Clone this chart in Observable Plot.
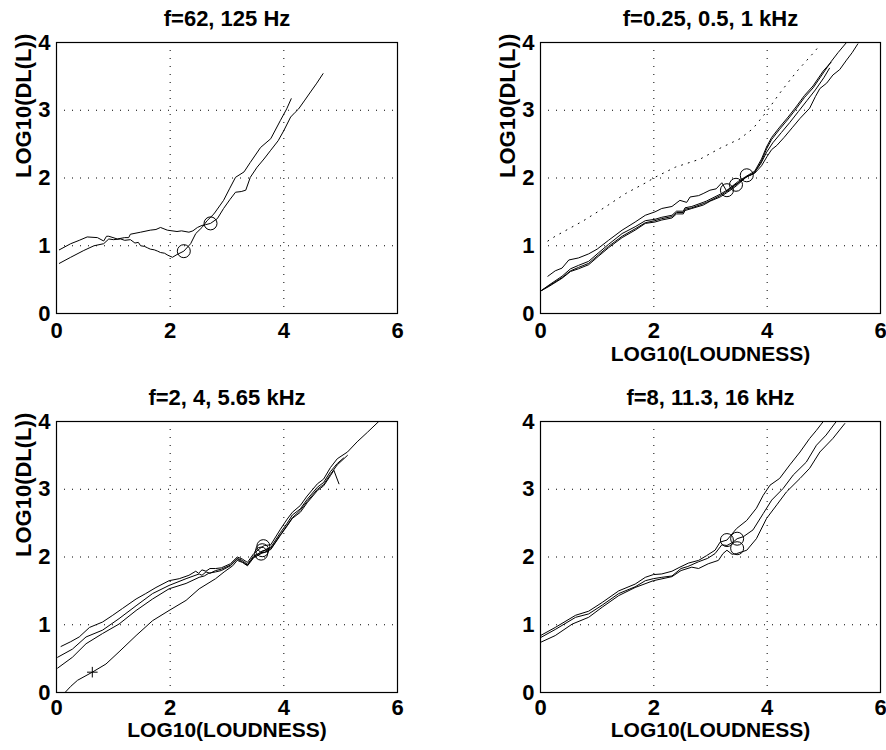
<!DOCTYPE html>
<html><head><meta charset="utf-8">
<script src="https://cdn.jsdelivr.net/npm/d3@7"></script>
<script src="https://cdn.jsdelivr.net/npm/@observablehq/plot@0.6"></script>
<style>
body{margin:0;background:#fff;}
#wrap{position:relative;width:886px;height:750px;overflow:hidden;background:#fff;}
#wrap svg{position:absolute;overflow:visible;}
</style></head><body><div id="wrap"></div>
<script>
// ---- axes / labels ----
const xTicks = [0, 2, 4, 6];
const yTicks = [0, 1, 2, 3, 4];
const xGrid = [2, 4];
const yGrid = [1, 2, 3];
const titles = ["f=62, 125 Hz", "f=0.25, 0.5, 1 kHz", "f=2, 4, 5.65 kHz", "f=8, 11.3, 16 kHz"];
const yLabel = "LOG10(DL(L))";
const xLabel = "LOG10(LOUDNESS)";

// ---- panel 1: 62, 125 Hz ----
const lowP = [[0.05,0.94],[0.25,1.03],[0.4,1.08],[0.54,1.13],[0.72,1.12],[0.83,1.07],[0.88,1.14],[0.92,1.14],[1.07,1.10],[1.2,1.12],[1.27,1.12],[1.30,1.17],[1.48,1.20],[1.65,1.23],[1.75,1.24],[1.83,1.27],[1.95,1.23],[2.12,1.21],[2.2,1.22],[2.33,1.20],[2.40,1.22],[2.48,1.27],[2.56,1.30],[2.62,1.31],[2.71,1.33],[2.83,1.40],[2.94,1.55],[3.05,1.68],[3.15,1.79],[3.25,1.80],[3.33,1.82],[3.41,2.01],[3.53,2.16],[3.65,2.28],[3.77,2.41],[3.9,2.55],[4.0,2.70],[4.12,2.90],[4.2,2.97],[4.26,3.02],[4.37,3.15],[4.47,3.27],[4.58,3.40],[4.69,3.54]];
const lowQ = [[0.05,0.74],[0.25,0.83],[0.48,0.93],[0.66,1.0],[0.83,1.03],[0.92,1.10],[1.0,1.09],[1.13,1.10],[1.2,1.08],[1.30,1.09],[1.38,1.04],[1.44,1.05],[1.48,1.0],[1.55,0.99],[1.6,0.97],[1.65,0.95],[1.72,0.94],[1.78,0.92],[1.83,0.90],[1.9,0.89],[1.96,0.86],[2.04,0.83],[2.12,0.87],[2.24,0.92],[2.36,1.03],[2.45,1.18],[2.56,1.27],[2.65,1.37],[2.77,1.47],[2.94,1.67],[3.05,1.85],[3.15,2.01],[3.30,2.09],[3.41,2.23],[3.59,2.45],[3.77,2.58],[3.94,2.85],[4.05,3.02],[4.13,3.17]];
const lowCircles = [[2.24,0.92],[2.71,1.33]];

// ---- panel 2: 0.25, 0.5, 1 kHz ----
const midDotted = [[0.13,1.07],[0.26,1.14],[0.76,1.37],[1.14,1.57],[1.50,1.77],[1.88,1.94],[2.02,2.01],[2.38,2.16],[2.82,2.28],[3.17,2.44],[3.52,2.58],[3.75,2.73],[3.99,2.98],[4.22,3.25],[4.52,3.57],[4.81,3.84],[4.93,3.96]];
const midT = [[0.13,0.55],[0.26,0.63],[0.38,0.67],[0.50,0.79],[0.67,0.82],[0.85,0.88],[1.0,0.95],[1.2,1.08],[1.44,1.23],[1.67,1.35],[1.85,1.45],[2.02,1.50],[2.14,1.55],[2.32,1.58],[2.46,1.67],[2.58,1.64],[2.64,1.72],[2.79,1.74],[2.87,1.77],[2.99,1.82],[3.1,1.84],[3.2,1.93],[3.29,1.80],[3.34,1.85],[3.49,1.95],[3.64,2.03],[3.78,2.10],[3.90,2.28],[3.99,2.46],[4.08,2.60],[4.22,2.75],[4.37,2.90],[4.51,3.05],[4.66,3.22],[4.81,3.36],[4.99,3.58],[5.13,3.71]];
const midA = [[0.0,0.33],[0.15,0.42],[0.38,0.55],[0.53,0.66],[0.67,0.71],[0.85,0.77],[1.03,0.90],[1.2,1.02],[1.44,1.18],[1.67,1.28],[1.85,1.37],[2.02,1.39],[2.14,1.42],[2.32,1.45],[2.40,1.51],[2.52,1.51],[2.55,1.56],[2.67,1.58],[2.87,1.64],[2.93,1.66],[3.17,1.76],[3.29,1.82],[3.34,1.85],[3.49,1.93],[3.64,2.02],[3.78,2.08],[3.90,2.25],[3.99,2.43],[4.08,2.57],[4.22,2.72],[4.37,2.87],[4.51,3.02],[4.66,3.19],[4.81,3.33],[4.99,3.55],[5.13,3.72],[5.25,3.85],[5.4,4.0]];
const midB = [[0.0,0.33],[0.15,0.41],[0.38,0.53],[0.53,0.63],[0.67,0.68],[0.85,0.74],[1.03,0.87],[1.2,0.99],[1.44,1.14],[1.67,1.25],[1.85,1.34],[2.02,1.37],[2.14,1.40],[2.32,1.43],[2.40,1.49],[2.52,1.49],[2.55,1.54],[2.67,1.56],[2.87,1.62],[2.93,1.64],[3.17,1.74],[3.34,1.83],[3.45,1.90],[3.6,2.0],[3.75,2.06],[3.88,2.2],[3.99,2.38],[4.1,2.52],[4.25,2.67],[4.4,2.82],[4.55,2.98],[4.7,3.14],[4.85,3.3],[5.0,3.48],[5.1,3.62]];
const midC = [[0.0,0.33],[0.15,0.40],[0.38,0.52],[0.53,0.62],[0.67,0.66],[0.85,0.72],[1.03,0.85],[1.2,0.97],[1.44,1.12],[1.67,1.23],[1.85,1.33],[2.02,1.35],[2.14,1.38],[2.32,1.41],[2.40,1.47],[2.52,1.47],[2.55,1.52],[2.67,1.55],[2.87,1.60],[3.0,1.66],[3.17,1.72],[3.3,1.79],[3.45,1.88],[3.64,2.02],[3.78,2.07],[3.9,2.18],[4.0,2.32],[4.08,2.42],[4.17,2.48],[4.3,2.6],[4.45,2.75],[4.58,2.88],[4.75,3.03],[4.85,3.2],[4.93,3.32],[5.05,3.40],[5.16,3.52],[5.28,3.6],[5.4,3.74],[5.5,3.85],[5.6,3.98]];
const midCircles = [[3.29,1.82],[3.45,1.90],[3.64,2.04]];

// ---- panel 3: 2, 4, 5.65 kHz ----
const hiD = [[0.08,0.68],[0.25,0.75],[0.4,0.82],[0.58,0.96],[0.81,1.04],[0.99,1.14],[1.16,1.24],[1.40,1.38],[1.57,1.46],[1.75,1.55],[1.98,1.65],[2.16,1.68],[2.33,1.73],[2.45,1.79],[2.5,1.76],[2.56,1.81],[2.63,1.79],[2.7,1.83],[2.80,1.83],[2.9,1.84],[3.06,1.90],[3.18,2.0],[3.27,1.97],[3.36,1.92],[3.47,2.05],[3.60,2.14],[3.66,2.17],[3.77,2.18],[3.94,2.41],[4.06,2.56],[4.15,2.66],[4.29,2.76],[4.41,2.90],[4.59,3.08],[4.70,3.15],[4.82,3.32],[4.94,3.45],[5.12,3.55],[5.29,3.70],[5.47,3.84],[5.67,4.0]];
const hiE = [[0.02,0.52],[0.28,0.64],[0.52,0.82],[0.81,0.92],[1.10,1.09],[1.40,1.28],[1.69,1.46],[1.98,1.58],[2.28,1.68],[2.51,1.75],[2.56,1.73],[2.63,1.78],[2.7,1.76],[2.80,1.80],[2.9,1.82],[3.06,1.88],[3.18,1.98],[3.27,1.95],[3.36,1.89],[3.47,2.02],[3.58,2.05],[3.7,2.12],[3.77,2.14],[3.94,2.36],[4.06,2.50],[4.15,2.62],[4.29,2.71],[4.41,2.85],[4.59,3.03],[4.70,3.10],[4.82,3.26],[4.94,3.38],[5.05,3.46]];
const hiF = [[0.02,0.36],[0.28,0.52],[0.52,0.72],[0.81,0.87],[1.10,1.01],[1.40,1.21],[1.69,1.38],[1.98,1.53],[2.28,1.61],[2.51,1.70],[2.6,1.72],[2.68,1.76],[2.80,1.78],[2.9,1.80],[3.06,1.87],[3.18,1.97],[3.27,1.93],[3.36,1.88],[3.47,2.00],[3.62,2.09],[3.77,2.12],[3.94,2.33],[4.06,2.47],[4.15,2.58],[4.29,2.69],[4.41,2.82],[4.59,3.00],[4.70,3.07],[4.82,3.22],[4.94,3.36],[5.12,3.50]];
const hiG = [[0.15,0.0],[0.25,0.09],[0.37,0.18],[0.63,0.30],[0.87,0.42],[1.10,0.60],[1.40,0.84],[1.69,1.06],[1.98,1.21],[2.28,1.36],[2.51,1.53],[2.80,1.68],[2.95,1.78],[3.10,1.87],[3.18,1.95],[3.27,1.92],[3.36,1.87],[3.47,1.99],[3.60,2.05],[3.77,2.11],[3.94,2.32],[4.06,2.46],[4.15,2.57],[4.29,2.66],[4.41,2.80],[4.59,2.98],[4.70,3.05],[4.82,3.20],[4.88,3.28],[4.97,3.08]];
const hiCircles = [[3.60,2.05],[3.62,2.10],[3.64,2.16]];
const hiPlus = [[0.63,0.30]];

// ---- panel 4: 8, 11.3, 16 kHz ----
const topH = [[0,0.84],[0.26,0.96],[0.62,1.14],[0.85,1.20],[1.09,1.33],[1.38,1.50],[1.67,1.60],[1.85,1.70],[1.99,1.74],[2.14,1.75],[2.32,1.79],[2.46,1.85],[2.61,1.91],[2.79,1.95],[2.93,2.02],[3.08,2.10],[3.17,2.22],[3.29,2.25],[3.46,2.42],[3.64,2.54],[3.81,2.72],[3.93,2.91],[4.05,3.06],[4.22,3.16],[4.40,3.36],[4.58,3.55],[4.75,3.75],[4.87,3.87],[4.99,4.0]];
const topI = [[0,0.81],[0.26,0.93],[0.62,1.11],[0.85,1.16],[1.09,1.29],[1.38,1.46],[1.67,1.56],[1.85,1.65],[1.99,1.68],[2.14,1.70],[2.32,1.72],[2.48,1.83],[2.6,1.86],[2.79,1.93],[2.95,1.98],[3.08,2.05],[3.2,2.18],[3.29,2.17],[3.40,2.22],[3.47,2.27],[3.58,2.30],[3.75,2.40],[3.93,2.64],[4.08,2.84],[4.28,3.01],[4.46,3.21],[4.69,3.40],[4.87,3.65],[5.04,3.80],[5.22,4.0]];
const topJ = [[0,0.74],[0.26,0.84],[0.56,1.01],[0.85,1.11],[1.09,1.26],[1.38,1.43],[1.67,1.55],[1.99,1.65],[2.32,1.71],[2.48,1.80],[2.67,1.85],[2.79,1.83],[2.96,1.90],[3.14,1.95],[3.22,2.05],[3.29,2.10],[3.38,2.04],[3.46,2.05],[3.64,2.10],[3.81,2.27],[3.99,2.57],[4.17,2.77],[4.34,2.96],[4.58,3.16],[4.75,3.31],[4.93,3.55],[5.16,3.75],[5.37,3.97]];
const topCircles = [[3.29,2.25],[3.47,2.27],[3.47,2.13]];

const FONT = "'Liberation Sans', Arial, Helvetica, sans-serif";
const txt = {fontSize: 22, fontWeight: "bold", fill: "black"};
const labTxt = {fontSize: 21, fontWeight: "bold", fill: "black"};

function rows(curves) {
  return curves.flatMap((c, i) => c.map(([x, y]) => ({id: i, x, y})));
}
function pts(list) { return list.map(([x, y]) => ({x, y})); }

function panel(cfg) {
  const marks = [
    Plot.gridX(xGrid, {stroke: "black", strokeOpacity: 1, strokeDasharray: "1,7"}),
    Plot.gridY(yGrid, {stroke: "black", strokeOpacity: 1, strokeDasharray: "1,7"}),
    Plot.axisX({ticks: xTicks, tickSize: 0, tickPadding: cfg.tp, tickFormat: d => String(d), label: null, ...txt}),
    Plot.axisY({ticks: yTicks, tickSize: 0, tickPadding: 6, tickFormat: d => String(d), label: null, ...txt}),
    Plot.line(rows(cfg.curves), {x: "x", y: "y", z: "id", stroke: "black", strokeWidth: 1, clip: true}),
    Plot.frame({stroke: "black", strokeWidth: 1.2}),
    Plot.dot(pts(cfg.circles), {x: "x", y: "y", r: 6.5, stroke: "black", fill: "none", strokeWidth: 1}),
    Plot.text([cfg.title], {text: d => d, frameAnchor: "top", lineAnchor: "bottom", dy: -17, ...txt})
  ];
  if (cfg.dotted) marks.push(Plot.line(pts(cfg.dotted), {x: "x", y: "y", stroke: "black", strokeWidth: 1, strokeDasharray: "1,6", clip: true}));
  if (cfg.plus) marks.push(Plot.dot(pts(cfg.plus), {x: "x", y: "y", symbol: "plus", r: 3.5, stroke: "black", strokeWidth: 1}));
  if (cfg.ylab) marks.push(Plot.text([yLabel], {text: d => d, frameAnchor: "left", rotate: -90, dx: -33, ...txt}));
  if (cfg.xlab) marks.push(Plot.text([xLabel], {text: d => d, frameAnchor: "bottom", lineAnchor: "top", dy: cfg.ld, ...labTxt}));
  const svg = Plot.plot({
    width: 443, height: 375,
    marginLeft: cfg.ml, marginRight: cfg.mr, marginTop: cfg.mt, marginBottom: cfg.mb,
    x: {domain: [0, 6]}, y: {domain: [0, 4]},
    style: {fontFamily: FONT, background: "transparent", color: "black"},
    marks
  });
  svg.style.left = cfg.left + "px";
  svg.style.top = cfg.top + "px";
  document.getElementById("wrap").appendChild(svg);
}

panel({title: titles[0], curves: [lowP, lowQ], circles: lowCircles, ylab: true, xlab: false,
  left: 0, top: 0, ml: 56, mr: 46, mt: 42, mb: 62, tp: 9, ld: 33});
panel({title: titles[1], curves: [midT, midA, midB, midC], circles: midCircles, dotted: midDotted, ylab: true, xlab: true,
  left: 443, top: 0, ml: 97, mr: 6, mt: 42, mb: 62, tp: 9, ld: 33});
panel({title: titles[2], curves: [hiD, hiE, hiF, hiG], circles: hiCircles, plus: hiPlus, ylab: true, xlab: true,
  left: 0, top: 375, ml: 56, mr: 46, mt: 46, mb: 58, tp: 7, ld: 30});
panel({title: titles[3], curves: [topH, topI, topJ], circles: topCircles, ylab: false, xlab: true,
  left: 443, top: 375, ml: 97, mr: 6, mt: 46, mb: 58, tp: 7, ld: 30});
</script></body></html>
